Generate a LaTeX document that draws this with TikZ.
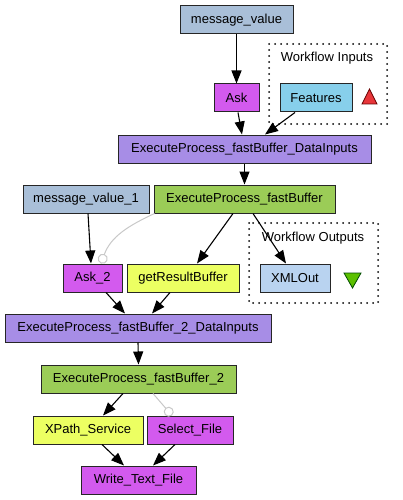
\documentclass[tikz,border=0pt]{standalone}
\usepackage{fontspec}
\setmainfont{Liberation Sans}
\usetikzlibrary{arrows.meta}
\definecolor{valuecol}{HTML}{A9BFD8}
\definecolor{askcol}{HTML}{D35AEE}
\definecolor{inputcol}{HTML}{A78DE6}
\definecolor{wpscol}{HTML}{9BCC57}
\definecolor{soapcol}{HTML}{ECFF62}
\definecolor{featcol}{HTML}{87CFEB}
\definecolor{outcol}{HTML}{B9D3F0}
\definecolor{softcol}{HTML}{C8C8C8}
\definecolor{portin}{HTML}{E8363A}
\definecolor{portout}{HTML}{5CC000}

\begin{document}
\begin{tikzpicture}[x=1pt,y=-1pt,
    box/.style={draw=black!85,line width=1pt,minimum height=28pt,inner sep=0pt,
      font=\fontsize{13}{15}\selectfont},
    link/.style={line width=1.1pt,-{Triangle[length=13pt,width=10pt]}},
    soft/.style={line width=1pt,draw=softcol,-{Circle[open,length=10pt,width=10pt]}},
    group/.style={line width=2pt,line cap=round,dash pattern=on 0pt off 6pt}]
    \useasboundingbox (0,0) rectangle (403,500);
    % workflow ports
    \draw[group] (269,44) rectangle (387,124);
    \node[font=\fontsize{13}{15}\selectfont] (inlabel) at (327,58) {Workflow Inputs};
    \draw[group] (249,223) rectangle (378,303);
    \node[font=\fontsize{13}{15}\selectfont] (outlabel) at (313,238) {Workflow Outputs};
    \filldraw[fill=portin,draw=red!40!black,line width=0.8pt] (362,104) -- (377,104) -- (369.5,89) -- cycle;
    \filldraw[fill=portout,draw=green!30!black,line width=0.8pt] (344,273) -- (361,273) -- (352.5,288) -- cycle;
    % processors
    \node[box,fill=valuecol,minimum width=113pt] (mv) at (236.5,20) {message\_value};
    \node[box,fill=askcol,minimum width=45pt] (ask) at (236.5,98) {Ask};
    \node[box,fill=featcol,minimum width=72pt] (feat) at (316,98) {Features};
    \node[box,fill=inputcol,minimum width=253pt] (di1) at (244.5,149) {ExecuteProcess\_fastBuffer\_DataInputs};
    \node[box,fill=valuecol,minimum width=126pt] (mv1) at (86,199) {message\_value\_1};
    \node[box,fill=wpscol,minimum width=181pt] (fb) at (244.5,199) {ExecuteProcess\_fastBuffer};
    \node[box,fill=askcol,minimum width=59pt] (ask2) at (92.5,278) {Ask\_2};
    \node[box,fill=soapcol,minimum width=112pt] (grb) at (183,278) {getResultBuffer};
    \node[box,fill=outcol,minimum width=70pt] (xml) at (295,278) {XMLOut};
    \node[box,fill=inputcol,minimum width=266pt] (di2) at (138,328) {ExecuteProcess\_fastBuffer\_2\_DataInputs};
    \node[box,fill=wpscol,minimum width=195pt] (fb2) at (138.5,379) {ExecuteProcess\_fastBuffer\_2};
    \node[box,fill=soapcol,minimum width=110pt] (xpath) at (88,430) {XPath\_Service};
    \node[box,fill=askcol,minimum width=86pt] (sel) at (190,430) {Select\_File};
    \node[box,fill=askcol,minimum width=115pt] (wtf) at (138.5,480) {Write\_Text\_File};
    % data links
    \draw[link] (mv.south) -- (ask.north);
    \draw[link] ([xshift=1.5pt]ask.south) -- ([xshift=-2.5pt]di1.north);
    \draw[link] ([xshift=-21pt]feat.south) -- ([xshift=20.5pt]di1.north);
    \draw[link] (di1.south) -- (fb.north);
    \draw[link] ([xshift=2pt]mv1.south) -- ([xshift=-1.5pt]ask2.north);
    \draw[soft] ([xshift=1pt]fb.south west) to[out=205,in=70] ([xshift=8.5pt]ask2.north);
    \draw[link] ([xshift=-11.5pt]fb.south) -- ([xshift=14pt]grb.north);
    \draw[link] ([xshift=8.5pt]fb.south) -- ([xshift=-9pt]xml.north);
    \draw[link] ([xshift=13.5pt]ask2.south) -- ([xshift=-13pt]di2.north);
    \draw[link] ([xshift=-13pt]grb.south) -- ([xshift=14pt]di2.north);
    \draw[link] ([xshift=-0.5pt]fb2.north |- di2.south) -- (fb2.north);
    \draw[link] ([xshift=-15.5pt]fb2.south) -- ([xshift=15pt]xpath.north);
    \draw[soft] ([xshift=14.5pt]fb2.south) -- ([xshift=-18pt]sel.north);
    \draw[link] ([xshift=14pt]xpath.south) -- ([xshift=-14.5pt]wtf.north);
    \draw[link] ([xshift=-15pt]sel.south) -- ([xshift=14.5pt]wtf.north);
\end{tikzpicture}
\end{document}
